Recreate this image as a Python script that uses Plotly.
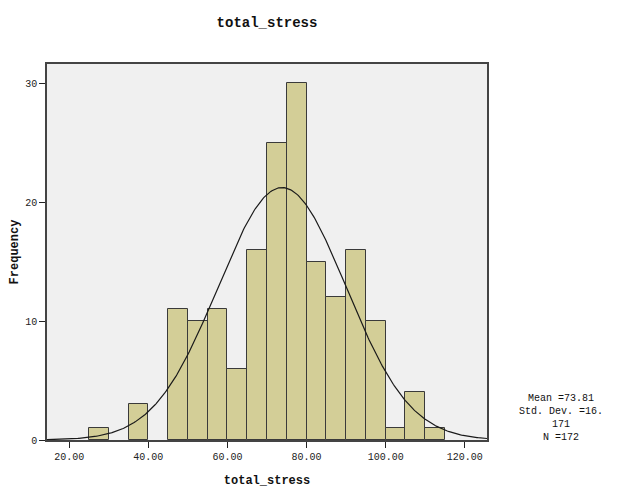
import numpy as np
import plotly.graph_objects as go

bin_starts = [25, 35, 45, 50, 55, 60, 65, 70, 75, 80, 85, 90, 95, 100, 105, 110]
counts = [1, 3, 11, 10, 11, 6, 16, 25, 30, 15, 12, 16, 10, 1, 4, 1]
bin_width = 5
mean = 73.81
std = 16.171
n = 172
x_ticks = [20, 40, 60, 80, 100, 120]
y_ticks = [0, 10, 20, 30]

x_min, x_max = 14.4, 125.6
y_max = 31.6

fig = go.Figure()
fig.add_trace(go.Bar(
    x=[b + bin_width / 2 for b in bin_starts],
    y=counts,
    width=bin_width,
    marker=dict(color="#d3ce97", line=dict(color="#3a3a3a", width=1)),
    showlegend=False,
    hoverinfo="skip",
))

xs = np.linspace(x_min, x_max, 400)
ys = n * bin_width / (std * np.sqrt(2 * np.pi)) * np.exp(-0.5 * ((xs - mean) / std) ** 2)
fig.add_trace(go.Scatter(x=xs, y=ys, mode="lines", line=dict(color="#1a1a1a", width=1.2),
                         showlegend=False, hoverinfo="skip"))

mono = "Courier New, Liberation Mono, monospace"
fig.update_layout(
    width=622, height=491,
    margin=dict(l=47, r=135, t=64, b=51),
    paper_bgcolor="white",
    plot_bgcolor="#f0f0f0",
    bargap=0,
    title=dict(text="<b>total_stress</b>", x=(47 + 487) / 2 / 622, xanchor="center",
               y=1 - 22 / 491, yanchor="middle",
               font=dict(family=mono, size=14, color="#111")),
    font=dict(family=mono, size=10, color="#222"),
    xaxis=dict(range=[x_min, x_max], tickvals=x_ticks,
               ticktext=[f"{v:.2f}" for v in x_ticks],
               ticks="outside", ticklen=6, tickcolor="#222",
               showgrid=False, zeroline=False, automargin=False,
               showline=True, linecolor="#444", linewidth=1.5, mirror=True,
               title=dict(text="<b>total_stress</b>", font=dict(family=mono, size=12, color="#111"),
                          standoff=14)),
    yaxis=dict(range=[0, y_max], tickvals=y_ticks,
               ticks="outside", ticklen=6, tickcolor="#222",
               showgrid=False, zeroline=False, automargin=False,
               showline=True, linecolor="#444", linewidth=1.5, mirror=True,
               title=dict(text="<b>Frequency</b>", font=dict(family=mono, size=12, color="#111"),
                          standoff=4)),
    annotations=[dict(
        text=f"Mean ={mean}<br>Std. Dev. =16.<br>171<br>N ={n}",
        xref="paper", yref="paper", x=(561 - 47) / 440, y=(440 - 418) / 376,
        xanchor="center", yanchor="middle", showarrow=False, align="center",
        font=dict(family=mono, size=10, color="#111"),
    )],
)

fig.write_html("out.html")
